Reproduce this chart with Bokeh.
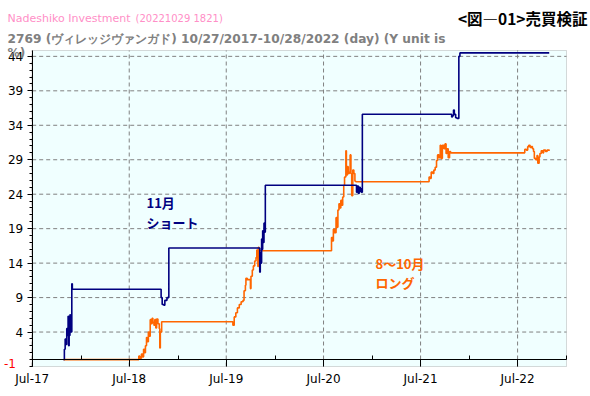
import pandas as pd
from bokeh.plotting import figure
from bokeh.models import (DatetimeAxis, LinearAxis, FixedTicker, DatetimeTickFormatter,
                          Label, Range1d, BoxAnnotation)
from bokeh.embed import file_html
from bokeh.resources import INLINE

# ---------------- data ----------------
short_dates = ["2017-10-27", "2017-10-30", "2017-11-02", "2017-11-06", "2017-11-08", "2017-11-10",
               "2017-11-13", "2017-11-15", "2017-11-17", "2017-11-20", "2017-11-22", "2017-11-27",
               "2017-11-29", "2018-10-26", "2018-10-29", "2018-11-02", "2018-11-08", "2018-11-12",
               "2018-11-20", "2018-11-27", "2019-10-29", "2019-11-04", "2019-11-06", "2019-11-08",
               "2019-11-11", "2019-11-13", "2019-11-15", "2019-11-18", "2019-11-20", "2019-11-22",
               "2019-11-25", "2020-10-30", "2020-11-02", "2020-11-05", "2020-11-09", "2020-11-12",
               "2020-11-16", "2020-11-19", "2020-11-20", "2020-11-24", "2021-10-22", "2021-10-26",
               "2021-10-29", "2021-11-02", "2021-11-05", "2021-11-10", "2021-11-15", "2021-11-22",
               "2021-11-26", "2022-10-28"]
short_values = [0.0, 1.5, 3.0, 2.2, 4.5, 3.5,
                6.3, 2.0, 3.5, 6.5, 4.0, 11.0,
                10.2, 10.2, 9.0, 8.0, 7.9, 8.6,
                9.0, 16.2, 16.2, 12.7, 15.5, 14.0,
                17.5, 16.0, 18.7, 17.0, 19.8, 18.5,
                25.3, 25.3, 24.3, 25.2, 24.1, 25.0,
                24.4, 24.8, 24.3, 35.6, 35.6, 35.2,
                35.4, 36.2, 35.6, 35.1, 35.0, 44.0,
                44.5, 44.5]

long_dates = ["2017-10-27", "2018-07-30", "2018-08-06", "2018-08-10", "2018-08-16", "2018-08-21",
              "2018-08-24", "2018-08-28", "2018-08-31", "2018-09-04", "2018-09-07", "2018-09-11",
              "2018-09-14", "2018-09-18", "2018-09-21", "2018-09-25", "2018-09-28", "2018-10-02",
              "2018-10-05", "2018-10-09", "2018-10-12", "2018-10-17", "2018-10-22", "2018-10-24",
              "2018-10-26", "2018-10-31",
              "2019-07-22", "2019-07-26", "2019-07-31", "2019-08-06", "2019-08-12", "2019-08-19",
              "2019-08-26", "2019-09-02", "2019-09-06", "2019-09-11", "2019-09-13", "2019-09-18",
              "2019-09-27", "2019-09-30", "2019-10-02", "2019-10-07", "2019-10-11", "2019-10-16",
              "2019-10-21", "2019-10-24", "2019-10-28", "2019-10-30", "2019-11-01",
              "2020-07-28", "2020-07-31", "2020-08-04", "2020-08-07", "2020-08-12", "2020-08-17",
              "2020-08-20", "2020-08-24", "2020-08-28", "2020-09-01", "2020-09-04", "2020-09-08",
              "2020-09-11", "2020-09-15", "2020-09-18", "2020-09-23", "2020-09-25", "2020-09-29",
              "2020-10-02", "2020-10-06", "2020-10-09", "2020-10-12", "2020-10-15", "2020-10-19",
              "2020-10-23", "2020-10-27", "2020-10-30",
              "2021-07-30", "2021-08-02", "2021-08-06", "2021-08-10", "2021-08-16", "2021-08-20",
              "2021-08-25", "2021-08-30", "2021-09-03", "2021-09-08", "2021-09-13", "2021-09-16",
              "2021-09-21", "2021-09-27", "2021-10-01", "2021-10-05", "2021-10-08", "2021-10-13",
              "2021-10-18", "2021-10-22",
              "2022-07-25", "2022-07-28", "2022-08-03", "2022-08-08", "2022-08-12", "2022-08-17",
              "2022-08-22", "2022-08-26", "2022-08-30", "2022-09-02", "2022-09-07", "2022-09-12",
              "2022-09-15", "2022-09-20", "2022-09-23", "2022-09-28", "2022-10-04", "2022-10-07",
              "2022-10-14", "2022-10-20", "2022-10-28"]
long_values = [0.0, 0.0, 0.5, 0.2, 0.8, 0.4,
               1.5, 1.0, 2.0, 3.2, 2.6, 4.0,
               3.4, 5.8, 5.2, 6.0, 5.4, 5.0,
               5.8, 4.6, 5.9, 5.2, 4.5, 1.7,
               4.0, 5.5,
               5.5, 5.0, 6.2, 6.8, 7.5, 8.0,
               8.4, 8.6, 10.0, 10.8, 11.8, 11.6,
               11.6, 10.3, 12.1, 13.0, 13.6, 14.3,
               14.8, 15.9, 13.5, 16.3, 15.8,
               15.8, 17.7, 17.2, 18.9, 18.4, 20.6,
               19.2, 21.7, 22.6, 22.0, 23.1, 22.4,
               23.6, 25.3, 26.5, 30.3, 26.8, 28.0,
               27.0, 27.2, 29.7, 27.0, 23.8, 27.5,
               27.0, 25.9, 25.8,
               25.8, 26.5, 26.3, 27.2, 27.0, 27.5,
               27.9, 28.9, 29.7, 29.3, 31.1, 29.2,
               31.1, 30.6, 31.3, 29.9, 30.6, 29.3,
               30.2, 30.0,
               30.0, 30.5, 30.4, 30.9, 31.1, 30.8,
               30.9, 30.6, 30.2, 29.2, 29.0, 29.6,
               28.5, 29.4, 29.9, 30.3, 30.0, 30.4,
               30.2, 30.4, 30.3]

x_tick_dates = ["2017-07-01", "2018-07-01", "2019-07-01", "2020-07-01", "2021-07-01", "2022-07-01"]
x_minor_dates = ["2018-01-01", "2019-01-01", "2020-01-01", "2021-01-01", "2022-01-01", "2023-01-01"]
x_start, x_end = "2017-07-01", "2023-01-01"
y_ticks = [4, 9, 14, 19, 24, 29, 34, 39, 44]
y_minor_ticks = list(range(-1, 45))
y_start, y_end = -1, 44.85


def ms(d):
    return pd.Timestamp(d).timestamp() * 1000.0


# ---------------- layout (page pixels) ----------------
W, H = 590, 394
FX0, FX1, FY0, FY1 = 31.7, 566.0, 50.0, 366.0   # plot area box on the page

t0, t1 = ms(x_start), ms(x_end)
kx = (t1 - t0) / (FX1 - FX0)
ky = (y_end - y_start) / (FY1 - FY0)

p = figure(width=W, height=H,
           x_range=Range1d(t0 - FX0 * kx, t0 + (W - FX0) * kx),
           y_range=Range1d(y_start - (H - FY1) * ky, y_end + FY0 * ky),
           x_axis_location=None, y_axis_location=None,
           output_backend="svg", toolbar_location=None,
           min_border=0, min_border_left=0, min_border_right=0, min_border_top=0, min_border_bottom=0,
           background_fill_color="white", border_fill_color="white",
           outline_line_color=None)
p.grid.visible = False

FONT = "DejaVu Sans"
CJK = "Noto Sans CJK JP"
GRID = "#808080"

# plot area background + gray frame
p.add_layout(BoxAnnotation(left=t0, right=t1, bottom=y_start, top=y_end,
                           fill_color="#F0FFFF", fill_alpha=1.0,
                           line_color=GRID, line_width=1, level="underlay"))

# dashed grid lines, one per tick
xt = [ms(d) for d in x_tick_dates]
p.segment(x0=xt, y0=[y_start] * len(xt), x1=xt, y1=[y_end] * len(xt),
          line_color=GRID, line_dash="4 3", line_width=1)
p.segment(x0=[t0] * len(y_ticks), y0=y_ticks, x1=[t1] * len(y_ticks), y1=y_ticks,
          line_color=GRID, line_dash="4 3", line_width=1)

# lines
p.step([ms(d) for d in long_dates], long_values, mode="after", line_color="#FF6600", line_width=1.6)
p.step([ms(d) for d in short_dates], short_values, mode="after", line_color="#000080", line_width=1.6)

# y axis at the left edge of the plot area
ya = LinearAxis(fixed_location=t0, bounds=(y_start, y_end),
                ticker=FixedTicker(ticks=y_ticks, minor_ticks=y_minor_ticks),
                axis_line_color="black", axis_line_width=1,
                major_tick_out=5, major_tick_in=0, minor_tick_out=3, minor_tick_in=0,
                major_tick_line_color="black", minor_tick_line_color="black",
                major_label_text_font=FONT, major_label_text_font_size="12px",
                major_label_text_color="black", major_label_standoff=4)
p.add_layout(ya, "left")

# x axis labels under the plot area
fmt = "%b-%y"
xa = DatetimeAxis(fixed_location=y_start, bounds=(t0, t1),
                  ticker=FixedTicker(ticks=xt, minor_ticks=[]),
                  formatter=DatetimeTickFormatter(years=fmt, months=fmt, days=fmt, hours=fmt,
                                                  minutes=fmt, seconds=fmt, minsec=fmt, hourmin=fmt,
                                                  milliseconds=fmt, microseconds=fmt),
                  axis_line_color=None, major_tick_out=0, major_tick_in=0,
                  minor_tick_out=0, minor_tick_in=0,
                  major_label_text_font=FONT, major_label_text_font_size="12px",
                  major_label_text_color="black", major_label_standoff=5)
p.add_layout(xa, "below")

# x axis line at y = 0 with ticks
xa0 = DatetimeAxis(fixed_location=0, bounds=(t0, t1),
                   ticker=FixedTicker(ticks=xt, minor_ticks=[ms(d) for d in x_minor_dates]),
                   axis_line_color="black", axis_line_width=1,
                   major_tick_out=7, major_tick_in=0, minor_tick_in=4, minor_tick_out=0,
                   major_tick_line_color="black", minor_tick_line_color="black",
                   major_label_text_font_size="0px", major_label_text_alpha=0)
p.add_layout(xa0, "below")


# ---------------- texts (page coordinates) ----------------
def page_label(text, px, py, align="left", **kw):
    p.add_layout(Label(x=px, y=H - py, x_units="screen", y_units="screen",
                       text=text, text_align=align, text_baseline="middle", **kw))


page_label("-1", 3.5, 363, text_font=FONT, text_font_size="12px", text_color="red")
page_label("Nadeshiko Investment", 7, 18, text_font=FONT, text_font_size="11px", text_color="#FF8FC7")
page_label("(20221029 1821)", 135, 18, text_font=FONT, text_font_size="10px", text_color="#FF8FC7")
page_label("2769 (ヴィレッジヴァンガド) 10/27/2017-10/28/2022 (day)  (Y unit is", 7, 38,
           text_font=FONT, text_font_size="12.2px", text_font_style="bold", text_color="#808080")
page_label("%)", 7, 52, text_font=FONT, text_font_size="12.2px", text_font_style="bold",
           text_color="#808080")
page_label("<図―01>売買検証", 587, 17, align="right", text_font=CJK, text_font_size="15.5px",
           text_font_style="bold", text_color="black")
page_label("11月", 146, 202, text_font=CJK, text_font_size="13px", text_font_style="bold",
           text_color="#000080")
page_label("ショート", 146, 222, text_font=CJK, text_font_size="13px", text_font_style="bold",
           text_color="#000080")
page_label("8～10月", 375, 263, text_font=CJK, text_font_size="13px", text_font_style="bold",
           text_color="#FF6600")
page_label("ロング", 375, 282, text_font=CJK, text_font_size="13px", text_font_style="bold",
           text_color="#FF6600")

open("out.html", "w").write(file_html(p, INLINE))
